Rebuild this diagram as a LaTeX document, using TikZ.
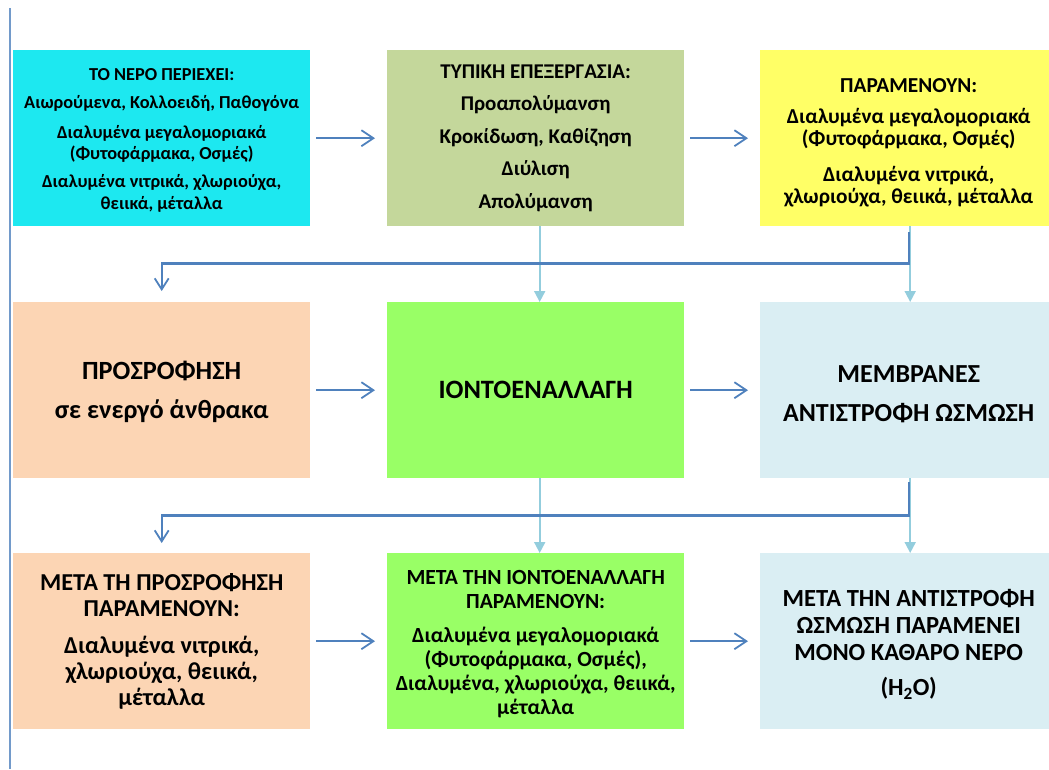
\documentclass[tikz,border=0pt]{standalone}
\usepackage{fontspec}
\setmainfont{Carlito}
\usetikzlibrary{arrows.meta}
\definecolor{cCyan}{RGB}{29,232,240}
\definecolor{cOlive}{HTML}{C4D79B}
\definecolor{cYellow}{HTML}{FFFF66}
\definecolor{cPeach}{HTML}{FCD5B4}
\definecolor{cGreen}{HTML}{99FF66}
\definecolor{cLBlue}{HTML}{DAEEF3}
\definecolor{cDark}{HTML}{4F81BD}
\definecolor{cLight}{HTML}{93CDDD}
\newcommand{\fs}[2]{\fontsize{#1}{#2}\selectfont}
\newcommand{\tallrule}[1]{\rule{0pt}{#1}}
\tikzset{
  box/.style={anchor=north west, minimum width=297pt, minimum height=176pt,
    inner sep=0pt, align=center, text=black},
  harrow/.style={draw=cDark, line width=1.8pt, shorten <=6pt, shorten >=12pt,
    -{Straight Barb[length=12pt,width=16pt,line width=1.8pt]}},
  varrow/.style={draw=cLight, line width=1.8pt,
    -{Triangle[length=11pt,width=11pt]}},
  elbow/.style={draw=cDark, line width=2.4pt,
    -{Straight Barb[length=11pt,width=14pt,line width=1.8pt]}},
}
\begin{document}
\begin{tikzpicture}[x=1pt,y=-1pt]
\useasboundingbox (0,0) rectangle (1049,769);
\clip (0,0) rectangle (1049,769);
\coordinate (lt) at (10,8);
\coordinate (lb) at (10,769);
\draw[cDark!80, line width=1.5pt] (lt) -- (lb);

\node[box, fill=cCyan, font=\bfseries\fs{18.3}{21.3}] (A) at (13,50) {%
\tallrule{16pt}ΤΟ ΝΕΡΟ ΠΕΡΙΕΧΕΙ:\\[7pt]
Αιωρούμενα, Κολλοειδή, Παθογόνα\\[8pt]
Διαλυμένα μεγαλομοριακά\\
(Φυτοφάρμακα, Οσμές)\\[7pt]
Διαλυμένα νιτρικά, χλωριούχα,\\
θειικά, μέταλλα};
\node[box, fill=cOlive, font=\bfseries\fs{21}{32.5}] (B) at (387,50) {%
ΤΥΠΙΚΗ ΕΠΕΞΕΡΓΑΣΙΑ:\\
Προαπολύμανση\\
Κροκίδωση, Καθίζηση\\
Διύλιση\\
Απολύμανση};
\node[box, fill=cYellow, font=\bfseries\fs{21.3}{22}] (C) at (760,50) {%
\tallrule{24pt}ΠΑΡΑΜΕΝΟΥΝ:\\[9pt]
Διαλυμένα μεγαλομοριακά\\
(Φυτοφάρμακα, Οσμές)\\[14pt]
Διαλυμένα νιτρικά,\\
χλωριούχα, θειικά, μέταλλα};

\node[box, fill=cPeach, font=\bfseries\fs{26.3}{38.5}] (D) at (13,302) {%
\tallrule{22pt}ΠΡΟΣΡΟΦΗΣΗ\\
σε ενεργό άνθρακα};
\node[box, fill=cGreen, font=\bfseries\fs{26.5}{30}] (E) at (387,302) {%
ΙΟΝΤΟΕΝΑΛΛΑΓΗ};
\node[box, fill=cLBlue, font=\bfseries\fs{26}{39}] (F) at (760,302) {%
\tallrule{24pt}ΜΕΜΒΡΑΝΕΣ\\
ΑΝΤΙΣΤΡΟΦΗ ΩΣΜΩΣΗ};

\node[box, fill=cPeach, font=\bfseries\fs{24.3}{26}] (G) at (13,553) {%
ΜΕΤΑ ΤΗ ΠΡΟΣΡΟΦΗΣΗ\\
ΠΑΡΑΜΕΝΟΥΝ:\\[11pt]
Διαλυμένα νιτρικά,\\
χλωριούχα, θειικά,\\
μέταλλα};
\node[box, fill=cGreen, font=\bfseries\fs{21.6}{24}] (H) at (387,553) {%
\tallrule{19pt}ΜΕΤΑ ΤΗΝ ΙΟΝΤΟΕΝΑΛΛΑΓΗ\\
ΠΑΡΑΜΕΝΟΥΝ:\\[10pt]
Διαλυμένα μεγαλομοριακά\\
(Φυτοφάρμακα, Οσμές),\\
Διαλυμένα, χλωριούχα, θειικά,\\
μέταλλα};
\node[box, fill=cLBlue, font=\bfseries\fs{24.6}{27}] (I) at (760,553) {%
\tallrule{23pt}ΜΕΤΑ ΤΗΝ ΑΝΤΙΣΤΡΟΦΗ\\
ΩΣΜΩΣΗ ΠΑΡΑΜΕΝΕΙ\\
ΜΟΝΟ ΚΑΘΑΡΟ ΝΕΡΟ\\[8pt]
(Η\textsubscript{2}Ο)};

% horizontal arrows
\draw[harrow] (A.east) -- (B.west);
\draw[harrow] (B.east) -- (C.west);
\draw[harrow] (D.east) -- (E.west);
\draw[harrow] (E.east) -- (F.west);
\draw[harrow] (G.east) -- (H.west);
\draw[harrow] (H.east) -- (I.west);

% vertical light arrows
\draw[varrow] ([xshift=4pt]B.south) -- ([xshift=4pt]E.north);
\draw[varrow] ([xshift=1.5pt]C.south) -- ([xshift=1.5pt]F.north);
\draw[varrow] ([xshift=4pt]E.south) -- ([xshift=4pt]H.north);
\draw[varrow] ([xshift=1.5pt]F.south) -- ([xshift=1.5pt]I.north);

% elbow connectors
\coordinate (c1) at ([yshift=-6pt]C.south);
\coordinate (k1) at ([yshift=-37pt]C.south);
\coordinate (d1) at ([yshift=11pt]D.north);
\draw[elbow] (c1) -- (k1) -| (d1);
\coordinate (f1) at ([yshift=-4pt]F.south);
\coordinate (k2) at ([yshift=-37pt]F.south);
\coordinate (g1) at ([yshift=10pt]G.north);
\draw[elbow] (f1) -- (k2) -| (g1);
\end{tikzpicture}
\end{document}
